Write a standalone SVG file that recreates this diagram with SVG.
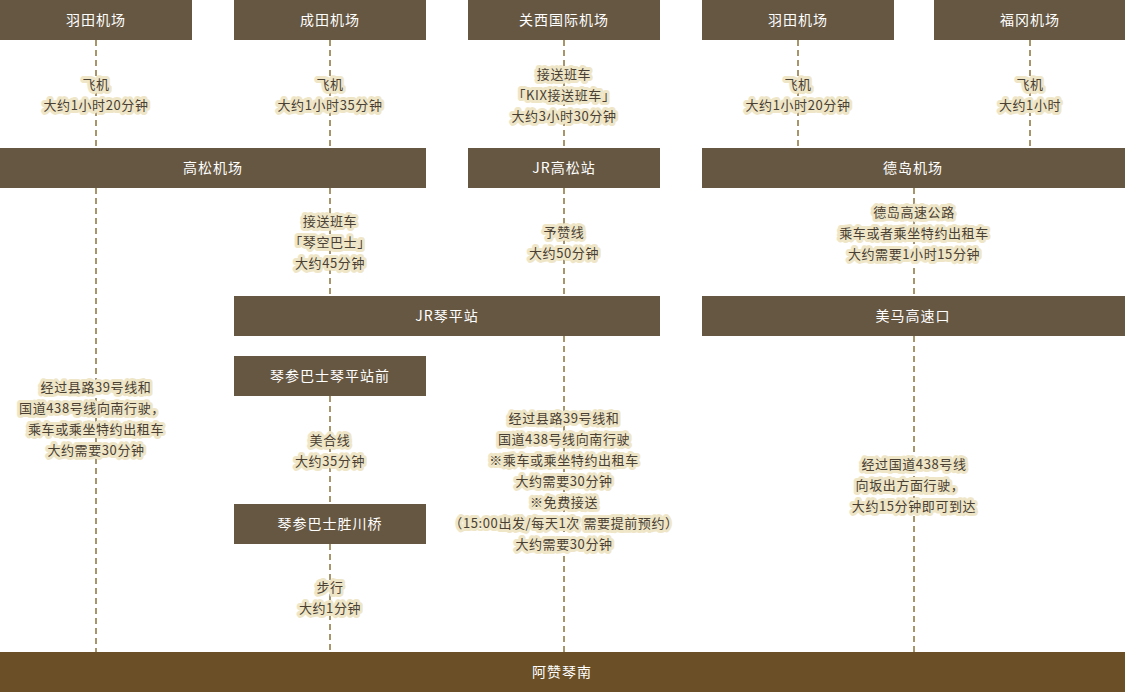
<svg xmlns="http://www.w3.org/2000/svg" width="1125" height="692" viewBox="0 0 1125 692">
<style>
.b{fill:#665742}
.bt{fill:#fff;font-family:"Noto Sans CJK SC",sans-serif;font-size:14px;letter-spacing:1px;text-anchor:middle;dominant-baseline:central}
.d{stroke:#a8956c;stroke-width:2;stroke-dasharray:6 4;fill:none}
.l{fill:#4a3f33;font-family:"Noto Sans CJK SC",sans-serif;font-size:13px;letter-spacing:0.6px;text-anchor:middle;dominant-baseline:central;stroke:#efe6c8;stroke-width:6;stroke-linejoin:round;paint-order:stroke}
</style>
<rect width="1125" height="692" fill="#fff"/>
<g id="connectors">
<path class="d" d="M96 40V148M96 188V652M330 40V148M330 188V296M330 396V504M330 544V652M564 40V148M564 188V296M564 336V652M798 40V148M1030 40V148M914 188V296M914 336V652"/>
</g>
<g id="n1"><rect class="b" x="0" y="0" width="192" height="40"/><text class="bt" x="96" y="19">羽田机场</text></g>
<g id="n2"><rect class="b" x="234" y="0" width="192" height="40"/><text class="bt" x="330" y="19">成田机场</text></g>
<g id="n3"><rect class="b" x="468" y="0" width="192" height="40"/><text class="bt" x="564" y="19">关西国际机场</text></g>
<g id="n4"><rect class="b" x="702" y="0" width="192" height="40"/><text class="bt" x="798" y="19">羽田机场</text></g>
<g id="n5"><rect class="b" x="934" y="0" width="191" height="40"/><text class="bt" x="1030" y="19">福冈机场</text></g>
<g id="n6"><rect class="b" x="0" y="148" width="426" height="40"/><text class="bt" x="213" y="167">高松机场</text></g>
<g id="n7"><rect class="b" x="468" y="148" width="192" height="40"/><text class="bt" x="564" y="167">JR高松站</text></g>
<g id="n8"><rect class="b" x="702" y="148" width="423" height="40"/><text class="bt" x="913" y="167">德岛机场</text></g>
<g id="n9"><rect class="b" x="234" y="296" width="426" height="40"/><text class="bt" x="447" y="315">JR琴平站</text></g>
<g id="n10"><rect class="b" x="702" y="296" width="423" height="40"/><text class="bt" x="913" y="315">美马高速口</text></g>
<g id="n11"><rect class="b" x="234" y="356" width="192" height="40"/><text class="bt" x="330" y="375">琴参巴士琴平站前</text></g>
<g id="n12"><rect class="b" x="234" y="504" width="192" height="40"/><text class="bt" x="330" y="523">琴参巴士胜川桥</text></g>
<g id="n13"><rect x="0" y="652" width="1125" height="40" fill="#6b4f26"/><text class="bt" x="562" y="671">阿赞琴南</text></g>
<g id="labels">
<text class="l" x="96" y="83">飞机</text><text class="l" x="96" y="104">大约1小时20分钟</text>
<text class="l" x="330" y="83">飞机</text><text class="l" x="330" y="104">大约1小时35分钟</text>
<text class="l" x="564" y="73">接送班车</text><text class="l" x="564" y="94">「KIX接送班车」</text><text class="l" x="564" y="115">大约3小时30分钟</text>
<text class="l" x="798" y="83">飞机</text><text class="l" x="798" y="104">大约1小时20分钟</text>
<text class="l" x="1030" y="83">飞机</text><text class="l" x="1030" y="104">大约1小时</text>
<text class="l" x="330" y="220">接送班车</text><text class="l" x="330" y="241">「琴空巴士」</text><text class="l" x="330" y="262">大约45分钟</text>
<text class="l" x="564" y="231">予赞线</text><text class="l" x="564" y="252">大约50分钟</text>
<text class="l" x="914" y="211">德岛高速公路</text><text class="l" x="914" y="232">乘车或者乘坐特约出租车</text><text class="l" x="914" y="253">大约需要1小时15分钟</text>
<text class="l" x="96" y="386">经过县路39号线和</text><text class="l" x="92" y="407">国道438号线向南行驶，</text><text class="l" x="96" y="428">乘车或乘坐特约出租车</text><text class="l" x="96" y="449">大约需要30分钟</text>
<text class="l" x="330" y="439">美合线</text><text class="l" x="330" y="460">大约35分钟</text>
<text class="l" x="564" y="417">经过县路39号线和</text><text class="l" x="564" y="438">国道438号线向南行驶</text><text class="l" x="564" y="459">※乘车或乘坐特约出租车</text><text class="l" x="564" y="480">大约需要30分钟</text><text class="l" x="564" y="501">※免费接送</text><text class="l" x="564" y="522">（15:00出发/每天1次 需要提前预约）</text><text class="l" x="564" y="543">大约需要30分钟</text>
<text class="l" x="914" y="463">经过国道438号线</text><text class="l" x="910" y="484">向坂出方面行驶，</text><text class="l" x="914" y="505">大约15分钟即可到达</text>
<text class="l" x="330" y="586">步行</text><text class="l" x="330" y="607">大约1分钟</text>
</g>
</svg>
